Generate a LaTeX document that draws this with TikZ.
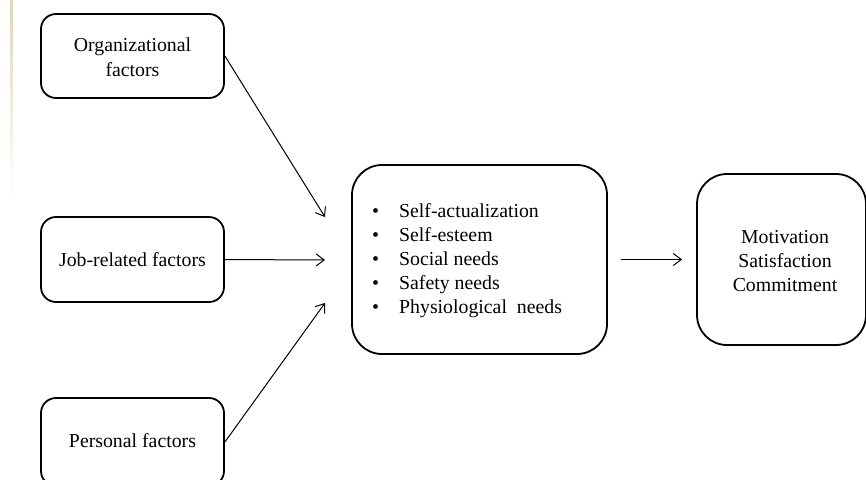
\documentclass[tikz,border=0pt]{standalone}
\usepackage{fontspec}
\setmainfont{Liberation Serif}
\usetikzlibrary{arrows.meta}
\definecolor{edgetan}{RGB}{228,214,170}
\tikzset{
  box/.style={draw=black, line width=1.8pt, rounded corners=15pt, inner sep=0pt},
  bigbox/.style={box, rounded corners=30pt},
  txt/.style={font=\fontsize{19.8}{25}\selectfont, align=center, inner sep=0pt},
  arr/.style={line width=1pt, -{Straight Barb[length=8pt,width=12pt,line width=1pt]}}
}
\begin{document}
\begin{tikzpicture}[x=1pt,y=-1pt]
\useasboundingbox (0,0) rectangle (866,479);
\shade[top color=edgetan, bottom color=white] (10.5,0) rectangle (12.5,200);
% left boxes
\node[box, minimum width=183pt, minimum height=84pt] (org) at (132.5,56) {};
\node[txt] (orgt) at (132.5,57.5) {Organizational\\factors};
\node[box, minimum width=183pt, minimum height=85pt] (job) at (132.5,259.5) {};
\node[txt] (jobt) at (132.5,260) {Job-related factors};
\node[box, minimum width=183pt, minimum height=88pt] (per) at (132.5,442) {};
\node[txt] (pert) at (132.5,441) {Personal factors};
% middle box
\node[bigbox, minimum width=255pt, minimum height=189pt] (mid) at (479.5,259.5) {};
\node[txt, align=left, anchor=west, font=\fontsize{19.8}{24}\selectfont] (midt) at (372,261)
  {\makebox[27pt][l]{•}Self-actualization\\
   \makebox[27pt][l]{•}Self-esteem\\
   \makebox[27pt][l]{•}Social needs\\
   \makebox[27pt][l]{•}Safety needs\\
   \makebox[27pt][l]{•}Physiological~~needs};
% right box
\node[bigbox, minimum width=169pt, minimum height=171pt] (res) at (781.5,259.5) {};
\node[txt, font=\fontsize{19.8}{24}\selectfont] (rest) at (785,261) {Motivation\\Satisfaction\\Commitment};
% arrow end points
\coordinate (a1) at (325,217);
\coordinate (a2) at (325,260);
\coordinate (a3) at (325,303);
\draw[arr] (org.east) -- (a1);
\draw[arr] (job.east) -- (a2);
\draw[arr] (per.east) -- (a3);
\draw[arr, shorten <=13pt, shorten >=14pt] (mid.east) -- (res.west);
\end{tikzpicture}
\end{document}
